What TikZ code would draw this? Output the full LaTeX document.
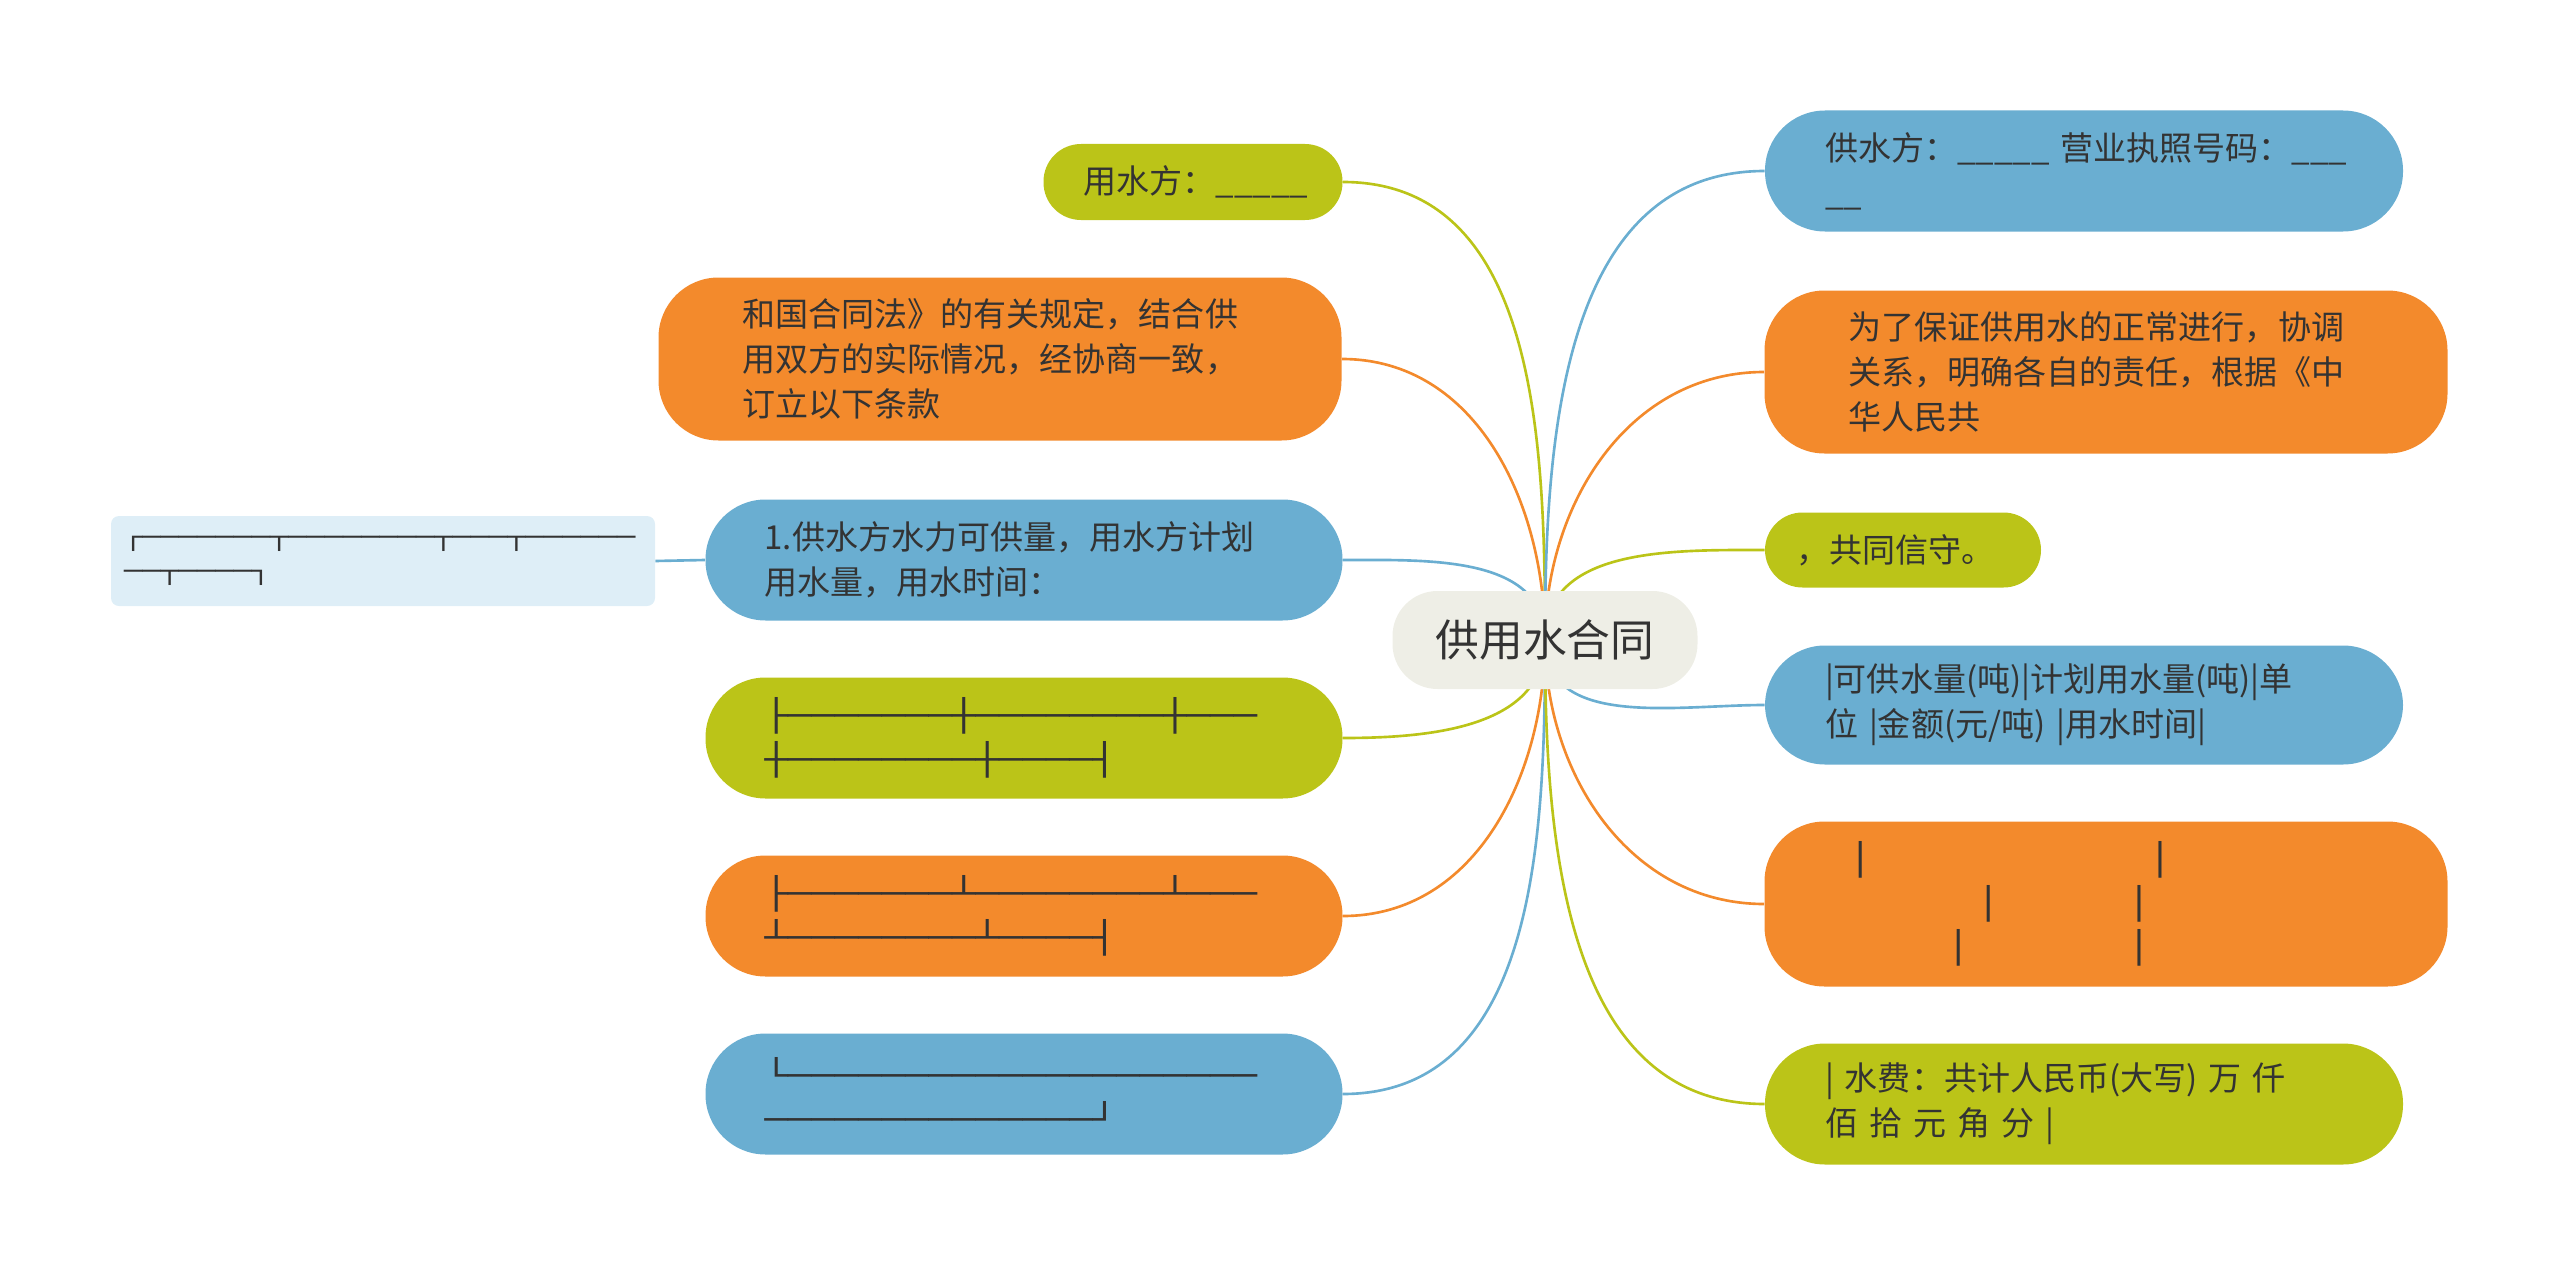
\documentclass[tikz,border=0pt]{standalone}
\usepackage{fontspec}
\setmainfont{Noto Sans CJK SC}
\newfontfamily\boxfont[FakeStretch=1.26]{DejaVu Sans Mono}
\usetikzlibrary{backgrounds}
\definecolor{leafGreen}{RGB}{187,196,24}
\definecolor{leafOrange}{RGB}{243,138,44}
\definecolor{leafBlue}{RGB}{106,174,209}
\definecolor{hubFill}{RGB}{238,238,230}
\definecolor{gridFill}{RGB}{222,238,247}
\colorlet{ink}{black!80}
\newcommand{\leaffont}{\fontsize{18.8}{25.6}\selectfont}
\newcommand{\hubfont}{\fontsize{24.9}{30}\selectfont}
\newcommand{\rulefont}{\boxfont\fontsize{17.6}{25}\selectfont}
\newcommand{\smallrulefont}{\boxfont\fontsize{13.7}{19.4}\selectfont}
\tikzset{
  link/.style={line width=1.5pt},
  hub/.style={
    rounded corners=0.9cm,
    fill=hubFill,
    minimum width=6.1cm,
    minimum height=1.96cm,
    font=\hubfont,
    text=ink
  },
  pill/.style={
    rounded corners=1.2cm,
    minimum width=12.76cm,
    minimum height=2.42cm,
    text width=10.36cm,
    inner xsep=0pt,
    inner ysep=0pt,
    align=left,
    font=\leaffont,
    text=ink
  },
  greenpill/.style={pill, fill=leafGreen},
  orangepill/.style={pill, fill=leafOrange},
  bluepill/.style={pill, fill=leafBlue},
  smallpill/.style={rounded corners=0.75cm, minimum height=1.52cm},
  widepill/.style={minimum width=13.66cm, text width=10.3cm},
  rulepill/.style={minimum width=12.74cm, text width=10.38cm, font=\rulefont},
  grid/.style={
    rounded corners=0.16cm,
    fill=gridFill,
    minimum width=10.88cm,
    minimum height=1.8cm,
    text width=10.36cm,
    inner xsep=0pt,
    align=left,
    font=\smallrulefont,
    text=ink
  }
}

\begin{document}
\begin{tikzpicture}
  \useasboundingbox (0,0) rectangle (51.2,-25.52);

  \node[hub] (hub) at (30.9,-12.8) {供用水合同};

  % left branch
  \node[greenpill, smallpill, minimum width=5.98cm, text width=4.38cm] (yongshui) at (23.86,-3.64) {用水方：\_\_\_\_\_};
  \node[orangepill, widepill, minimum height=3.26cm] (hetong) at (20.0,-7.18) {和国合同法》的有关规定，结合供\\用双方的实际情况，经协商一致，\\订立以下条款};
  \node[bluepill, minimum width=12.74cm, text width=10.38cm] (gongliang) at (20.48,-11.2) {1.供水方水力可供量，用水方计划\\用水量，用水时间：};
  \node[greenpill, rulepill] (tableA) at (20.48,-14.76) {├───────┼────────┼───\\┼────────┼────┤};
  \node[orangepill, rulepill] (tableB) at (20.48,-18.32) {├───────┴────────┴───\\┴────────┴────┤};
  \node[bluepill, rulepill] (tableC) at (20.48,-21.88) {└────────────────────\\──────────────┘};
  \node[grid] (tablegrid) at (7.66,-11.22) {┌───────┬────────┬───┬──────\\──┬────┐};

  % right branch
  \node[bluepill] (gongshui) at (41.68,-3.42) {供水方：\_\_\_\_\_~营业执照号码：\_\_\_\\\_\_};
  \node[orangepill, widepill, minimum height=3.26cm] (baozheng) at (42.12,-7.44) {为了保证供用水的正常进行，协调\\关系，明确各自的责任，根据《中\\华人民共};
  \node[greenpill, smallpill, minimum width=5.52cm, minimum height=1.5cm, text width=4.28cm] (xinshou) at (38.06,-11.0) {，共同信守。};
  \node[bluepill, minimum height=2.38cm] (liebiao) at (41.68,-14.1) {|可供水量(吨)|计划用水量(吨)|单\\位 |金额(元/吨) |用水时间|};
  \node[orangepill, widepill, minimum height=3.3cm, font=\rulefont] (shuliang) at (42.12,-18.08) {│\hspace*{5.53cm}│\\\hspace*{2.56cm}│\hspace*{2.55cm}│\\\hspace*{1.96cm}│\hspace*{3.15cm}│};
  \node[greenpill] (shuifei) at (41.68,-22.08) {| 水费：共计人民币(大写) 万 仟\\佰 拾 元 角 分 |};

  \begin{scope}[on background layer]
    \draw[link, leafGreen] (hub.center) to[out=90, in=0] (yongshui.east);
    \draw[link, leafOrange] (hub.center) to[out=90, in=0] (hetong.east);
    \draw[link, leafBlue] (hub.center) to[out=90, in=0] (gongliang.east);
    \draw[link, leafGreen] (hub.center) to[out=-90, in=0] (tableA.east);
    \draw[link, leafOrange] (hub.center) to[out=-90, in=0] (tableB.east);
    \draw[link, leafBlue] (hub.center) to[out=-90, in=0] (tableC.east);
    \draw[link, leafBlue] (gongliang.west) -- (tablegrid.east);
    \draw[link, leafBlue] (hub.center) to[out=90, in=180] (gongshui.west);
    \draw[link, leafOrange] (hub.center) to[out=90, in=180] (baozheng.west);
    \draw[link, leafGreen] (hub.center) to[out=90, in=180] (xinshou.west);
    \draw[link, leafBlue] (hub.center) to[out=-90, in=180] (liebiao.west);
    \draw[link, leafOrange] (hub.center) to[out=-90, in=180] (shuliang.west);
    \draw[link, leafGreen] (hub.center) to[out=-90, in=180] (shuifei.west);
  \end{scope}
\end{tikzpicture}
\end{document}
